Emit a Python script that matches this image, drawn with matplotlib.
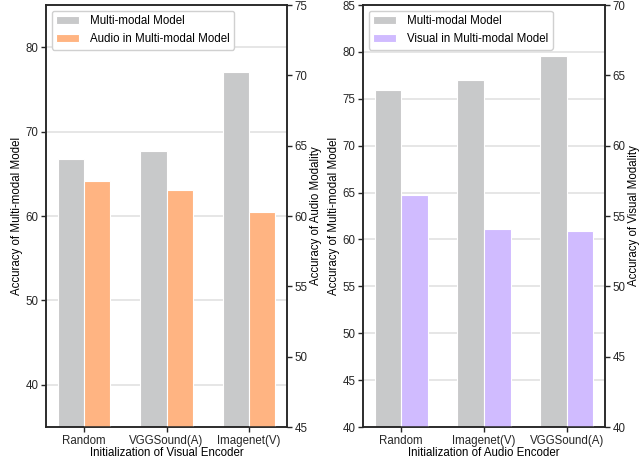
import matplotlib.pyplot as plt
import numpy as np

plt.rcParams["font.family"] = ["Liberation Sans", "DejaVu Sans"]
plt.rcParams["font.size"] = 8.3

# left panel: visual encoder initialization
visual_init = ["Random", "VGGSound(A)", "Imagenet(V)"]
mm_left = [66.8, 67.7, 77.1]
audio_in_mm = [62.5, 61.85, 60.3]

# right panel: audio encoder initialization
audio_init = ["Random", "Imagenet(V)", "VGGSound(A)"]
mm_right = [75.9, 77.0, 79.6]
visual_in_mm = [56.5, 54.1, 53.9]

GRAY = "#c8c9ca"
ORANGE = "#ffb482"
PURPLE = "#d0bbff"
INK = "#262626"


def draw_panel(rect, cats, mm, uni, uni_color, uni_label, ylim1, ylim2,
               yticks1, yticks2, xlabel, ylabel2):
    ax = fig.add_axes(rect)
    x = np.arange(len(cats))
    w = 0.32
    ax.grid(axis="y", color="#e2e2e2", linewidth=1.2, zorder=0)
    ax.set_axisbelow(True)
    b1 = ax.bar(x - w / 2, mm, w, color=GRAY, edgecolor="white",
                linewidth=0.8, label="Multi-modal Model", zorder=2)
    ax.set_ylim(*ylim1)
    ax.set_yticks(yticks1)
    ax.set_xticks(x)
    ax.set_xticklabels(cats)
    ax.set_xlim(-0.46, 2.46)
    ax.set_xlabel(xlabel, labelpad=0)
    ax.set_ylabel("Accuracy of Multi-modal Model", labelpad=2)

    ax2 = ax.twinx()
    b2 = ax2.bar(x + w / 2, uni, w, color=uni_color, edgecolor="white",
                 linewidth=0.8, label=uni_label, zorder=2)
    ax2.set_ylim(*ylim2)
    ax2.set_yticks(yticks2)
    ax2.set_ylabel(ylabel2, labelpad=2)

    for a in (ax, ax2):
        for s in a.spines.values():
            s.set_color(INK)
            s.set_linewidth(1.1)
        a.tick_params(colors=INK, length=3.5, width=1.0, pad=2,
                      labelsize=8.3)
    leg = ax2.legend([b1, b2], ["Multi-modal Model", uni_label],
                     loc="upper left", fontsize=8.3, handlelength=2.0,
                     handletextpad=0.9, borderaxespad=0.5, fancybox=True,
                     framealpha=1)
    leg.get_frame().set_edgecolor("#d0d0d0")


fig = plt.figure(figsize=(6.44, 4.59), dpi=100)

draw_panel([0.0714, 0.0697, 0.3743, 0.9194], visual_init, mm_left, audio_in_mm,
           ORANGE, "Audio in Multi-modal Model", (35, 85), (45, 75),
           [40, 50, 60, 70, 80], [45, 50, 55, 60, 65, 70, 75],
           "Initialization of Visual Encoder", "Accuracy of Audio Modality")

draw_panel([0.5637, 0.0697, 0.3757, 0.9194], audio_init, mm_right, visual_in_mm,
           PURPLE, "Visual in Multi-modal Model", (40, 85), (40, 70),
           [40, 45, 50, 55, 60, 65, 70, 75, 80, 85], [40, 45, 50, 55, 60, 65, 70],
           "Initialization of Audio Encoder", "Accuracy of Visual Modality")

fig.savefig("out.png", dpi=100)
